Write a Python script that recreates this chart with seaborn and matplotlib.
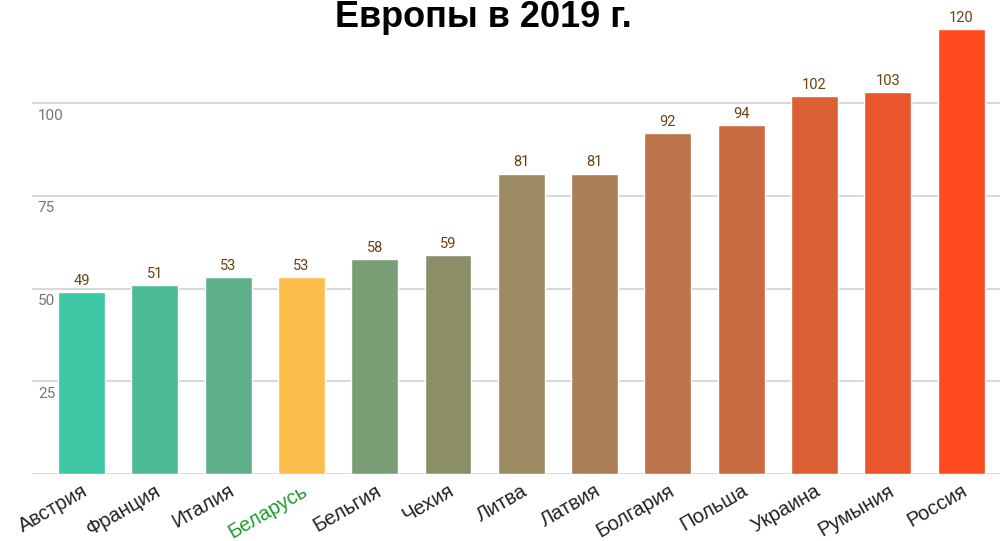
import pandas as pd
import matplotlib
matplotlib.use('Agg')
import matplotlib.pyplot as plt
import matplotlib.transforms as mtransforms
import seaborn as sns

# data
countries = ['Австрия', 'Франция', 'Италия', 'Беларусь', 'Бельгия', 'Чехия', 'Литва',
             'Латвия', 'Болгария', 'Польша', 'Украина', 'Румыния', 'Россия']
values = [49, 51, 53, 53, 58, 59, 81, 81, 92, 94, 102, 103, 120]
bar_colors = ['#3DC7A4', '#4DBB95', '#5FB08A', '#FDBD4B', '#7A9E76', '#8B8E67', '#9B8A62',
              '#AA7F56', '#BB734A', '#CA6A40', '#DD5F34', '#EA552B', '#FF4A1E']
yticks = [25, 50, 75, 100]
title = 'Европы в 2019 г.'

df = pd.DataFrame({'country': countries, 'value': values})

sns.set_style('white')
plt.rcParams['font.family'] = ['Roboto', 'DejaVu Sans']

fig = plt.figure(figsize=(10, 5.41), dpi=100)
ax = fig.add_axes([0.032, 67 / 541, 0.968, 474 / 541])

sns.barplot(data=df, x='country', y='value', hue='country', palette=bar_colors,
            width=0.64, legend=False, saturation=1, ax=ax, zorder=3)

ax.set_xlim(-0.675, 12.53)
ax.set_ylim(0, 127.8)
sns.despine(ax=ax, left=True, bottom=True, right=True, top=True)

# gridlines incl. baseline
for t in [0] + yticks:
    ax.axhline(t, color='#D6D6D6', lw=1.3, zorder=1)
ax.set_yticks([])
ax.set_ylabel('')
ax.set_xlabel('')

# y labels sit inside the plot just under the gridlines
trans = mtransforms.blended_transform_factory(ax.transAxes, ax.transData)
for t in yticks:
    ax.annotate(str(t), (0.006, t), xycoords=trans, xytext=(0, -4), textcoords='offset points',
                ha='left', va='top', fontsize=11, color='#777777')

# value labels
for c in ax.containers:
    ax.bar_label(c, padding=3, fontsize=10.5, color='#6B4212')

ax.tick_params(axis='x', length=0, pad=5)
ax.set_xticks(range(len(countries)))
ax.set_xticklabels(countries, rotation=30, ha='right', rotation_mode='anchor',
                   fontsize=14.5, color='#222222', family=['Liberation Sans', 'DejaVu Sans'])
ax.get_xticklabels()[countries.index('Беларусь')].set_color('#1E9E2A')

fig.text(0.483, 0.968, title, ha='center', va='center', fontsize=26, fontweight='bold',
         family=['Liberation Sans', 'DejaVu Sans'], color='black')

plt.savefig('out.png', dpi=100)
